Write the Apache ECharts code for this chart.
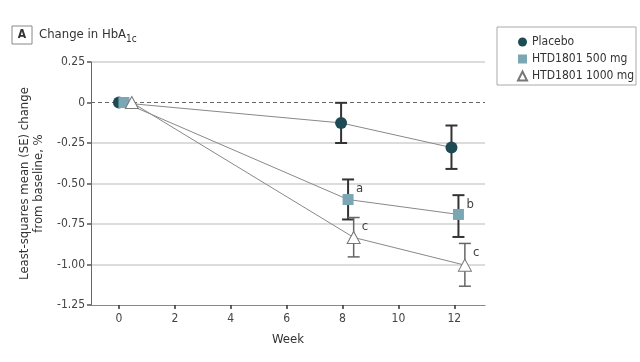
<!DOCTYPE html>
<html><head><meta charset="utf-8">
<script src="https://cdn.jsdelivr.net/npm/echarts@6/dist/echarts.min.js"></script>
<style>html,body{margin:0;padding:0;background:#fff}#c{width:640px;height:362px}</style>
</head><body><div id="c"></div>
<script>
// ---- data ----
const seriesNames = ['Placebo', 'HTD1801 500 mg', 'HTD1801 1000 mg'];
const placeboWeek = [0, 7.95, 11.9];
const placeboMean = [0, -0.126, -0.278];
const placeboLow  = [null, -0.25, -0.41];
const placeboHigh = [null, -0.002, -0.142];
const placeboNote = [null, null, null];

const d500Week = [0.18, 8.2, 12.15];
const d500Mean = [0, -0.599, -0.691];
const d500Low  = [null, -0.722, -0.83];
const d500High = [null, -0.475, -0.572];
const d500Note = [null, 'a', 'b'];

const d1000Week = [0.46, 8.4, 12.38];
const d1000Mean = [0, -0.833, -1.004];
const d1000Low  = [null, -0.953, -1.134];
const d1000High = [null, -0.71, -0.87];
const d1000Note = [null, 'c', 'c'];

const xTickLabels = [0, 2, 4, 6, 8, 10, 12];

// ---- chart ----
const FONT = '"DejaVu Sans Condensed","Liberation Sans Narrow","Open Sans",sans-serif';
const TXT = '#444';

function pts(w, m) { return w.map((x, i) => [x, m[i]]); }
function errData(w, lo, hi) {
  const out = [];
  w.forEach((x, i) => { if (lo[i] != null) out.push([x, lo[i], hi[i], i]); });
  return out;
}
function errRender(color, width, notes) {
  return function (params, api) {
    const x = api.value(0), lo = api.value(1), hi = api.value(2), idx = api.value(3);
    const a = api.coord([x, lo]), b = api.coord([x, hi]);
    const w = 6;
    const style = { stroke: color, lineWidth: width };
    const ch = [
      { type: 'line', shape: { x1: a[0], y1: a[1], x2: b[0], y2: b[1] }, style },
      { type: 'line', shape: { x1: a[0] - w, y1: a[1], x2: a[0] + w, y2: a[1] }, style },
      { type: 'line', shape: { x1: b[0] - w, y1: b[1], x2: b[0] + w, y2: b[1] }, style }
    ];
    const note = notes[idx];
    if (note) ch.push({ type: 'text', style: { text: note, x: b[0] + 8, y: b[1] + 9, fill: TXT,
      font: '13px ' + FONT, textAlign: 'left', textVerticalAlign: 'middle' } });
    return { type: 'group', children: ch };
  };
}

const colors = ['#1d4b55', '#7ba7b5', '#ffffff'];
const chart = echarts.init(document.getElementById('c'), null, { renderer: 'canvas' });
chart.setOption({
  animation: false,
  textStyle: { fontFamily: FONT },
  grid: { left: 91, right: 155, top: 62, bottom: 57 },
  graphic: [
    { type: 'rect', shape: { x: 12, y: 26, width: 20, height: 18 }, style: { fill: '#fff', stroke: '#888', lineWidth: 1 } },
    { type: 'text', x: 22, y: 35, style: { text: 'A', font: 'bold 12px ' + FONT, fill: '#333', textAlign: 'center', textVerticalAlign: 'middle' } },
    { type: 'text', x: 39, y: 35, style: { text: '{m|Change in HbA}{s|1c}', textVerticalAlign: 'middle',
      rich: { m: { font: '13px ' + FONT, fill: '#333' }, s: { font: '10px ' + FONT, fill: '#333', padding: [8, 0, 0, 0] } } } },
    { type: 'rect', shape: { x: 497, y: 27, width: 139, height: 58 }, style: { fill: 'none', stroke: '#aaa', lineWidth: 1 } }
  ],
  legend: {
    orient: 'vertical', left: 512, top: 31, itemWidth: 9, itemHeight: 9, itemGap: 5,
    textStyle: { fontSize: 12, color: '#333', fontFamily: FONT },
    data: [
      { name: seriesNames[0], icon: 'circle' },
      { name: seriesNames[1], icon: 'rect' },
      { name: seriesNames[2], icon: 'triangle' }
    ]
  },
  xAxis: {
    type: 'value', min: -1, max: 13.1,
    name: 'Week', nameLocation: 'middle', nameGap: 28,
    nameTextStyle: { fontSize: 13, color: '#333', fontFamily: FONT },
    axisLine: { onZero: false, lineStyle: { color: '#888', width: 1 } },
    axisTick: { show: true, length: 4, customValues: xTickLabels, lineStyle: { color: '#333', width: 1.5 } },
    axisLabel: { customValues: xTickLabels, color: TXT, fontSize: 12, margin: 8 },
    splitLine: { show: false }
  },
  yAxis: {
    type: 'value', min: -1.25, max: 0.25, interval: 0.25,
    name: 'Least-squares mean (SE) change\nfrom baseline, %',
    nameLocation: 'middle', nameGap: 45, nameRotate: 90,
    nameTextStyle: { fontSize: 13, color: '#333', lineHeight: 14, fontFamily: FONT },
    axisLine: { show: true, onZero: false, lineStyle: { color: '#666', width: 1 } },
    axisTick: { show: true, length: 4, lineStyle: { color: '#555', width: 1.5 } },
    axisLabel: { color: TXT, fontSize: 12, margin: 6,
      formatter: v => (Math.abs(v) < 1e-9 ? '0' : v.toFixed(2)) },
    splitLine: { show: true, lineStyle: { color: ['transparent', '#dcdcdc', '#dcdcdc', '#dcdcdc', '#dcdcdc', 'transparent', '#dcdcdc'], width: 2 } }
  },
  series: [
    { type: 'line', name: '_zero', data: [[-1, 0], [13.1, 0]], symbol: 'none', silent: true,
      lineStyle: { color: '#666', width: 1, type: [4, 3] }, z: 1 },
    { type: 'custom', name: '_e0', data: errData(placeboWeek, placeboLow, placeboHigh),
      renderItem: errRender('#333', 2, placeboNote), z: 2 },
    { type: 'custom', name: '_e1', data: errData(d500Week, d500Low, d500High),
      renderItem: errRender('#333', 2, d500Note), z: 2 },
    { type: 'custom', name: '_e2', data: errData(d1000Week, d1000Low, d1000High),
      renderItem: errRender('#666', 1.5, d1000Note), z: 2 },
    { type: 'line', name: seriesNames[0], data: pts(placeboWeek, placeboMean), symbol: 'circle', symbolSize: 12,
      lineStyle: { color: '#888', width: 1 }, itemStyle: { color: colors[0], borderWidth: 0 }, z: 3 },
    { type: 'line', name: seriesNames[1], data: pts(d500Week, d500Mean), symbol: 'rect', symbolSize: 11,
      lineStyle: { color: '#888', width: 1 }, itemStyle: { color: colors[1], borderWidth: 0 }, z: 4 },
    { type: 'line', name: seriesNames[2], data: pts(d1000Week, d1000Mean), symbol: 'triangle', symbolSize: [13, 12],
      lineStyle: { color: '#888', width: 1 }, itemStyle: { color: colors[2], borderColor: '#777', borderWidth: 1 }, z: 5 }
  ]
});
</script></body></html>
